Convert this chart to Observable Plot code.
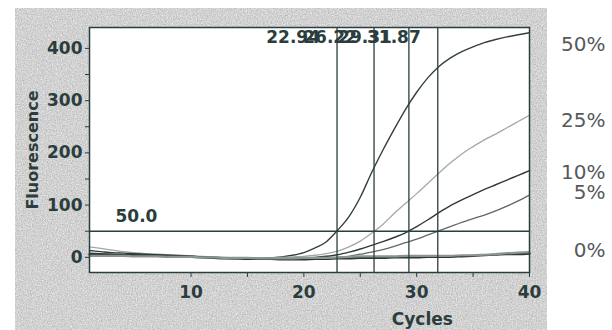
<!DOCTYPE html>
<html>
<head>
<meta charset="utf-8">
<script src="https://cdn.jsdelivr.net/npm/d3@7"></script>
<script src="https://cdn.jsdelivr.net/npm/@observablehq/plot@0.6"></script>
<style>
  html, body { margin: 0; padding: 0; background: #ffffff; }
  #wrap { position: relative; width: 612px; height: 330px; overflow: hidden; }
  #bg { position: absolute; left: 15px; top: 8px; width: 532px; height: 322px; }
  #chart { position: absolute; left: 0; top: 0; }
</style>
</head>
<body>
<div id="wrap">
  <svg id="bg" width="532" height="322">
    <filter id="grain" x="0" y="0" width="100%" height="100%" color-interpolation-filters="sRGB">
      <feTurbulence type="fractalNoise" baseFrequency="0.8" numOctaves="2" seed="4"/>
      <feColorMatrix type="matrix" values="0.3 0 0 0 0.67  0.3 0 0 0 0.67  0.3 0 0 0 0.67  0 0 0 0 1"/>
    </filter>
    <rect width="532" height="322" fill="#d0d0d0" filter="url(#grain)"/>
  </svg>
  <div id="chart"></div>
</div>
<script>
// ---- data ----
const cycles = [1,2,3,4,5,6,7,8,9,10,11,12,13,14,15,16,17,18,19,20,21,22,23,24,25,26,27,28,29,30,31,32,33,34,35,36,37,38,39,40];

const s50  = [8,7,6,5,5,4,4,3,3,2, 1,0,-1,-1,-2,-2,-1,1,4,9, 18,30,52,78,115,162,205,245,283,316, 344,366,382,394,403,411,417,422,426,430];
const s25  = [20,17,14,11,9,7,6,5,4,3, 2,1,0,-1,-1,-1,-1,0,1,2, 4,7,12,20,31,46,63,84,103,122, 142,162,181,198,212,225,236,248,260,272];
const s10  = [13,11,9,8,7,6,5,4,3,2, 1,0,-1,-2,-2,-3,-3,-3,-2,-1, 0,2,5,10,16,23,30,38,47,59, 72,86,99,110,120,130,139,148,157,166];
const s5   = [5,5,4,4,3,3,2,2,1,1, 0,-1,-2,-3,-3,-3,-4,-4,-3,-3, -2,-1,0,2,6,10,15,21,28,35, 43,51,59,67,74,81,89,98,108,119];
const ntcA = [6,5,5,4,4,3,3,2,2,1, 0,-1,-2,-2,-3,-3,-3,-4,-4,-4, -3,-3,-2,-2,-1,-1,-1,0,0,0, 1,1,1,2,3,4,5,6,6,7];
const ntcB = [3,3,3,3,2,2,2,1,1,1, 0,0,-1,-1,-1,-2,-2,-2,-2,-1, -1,-1,0,1,2,2,2,2,3,3, 3,3,3,4,4,5,6,8,9,10];

const seriesNames = ["50%", "25%", "10%", "5%", "0% a", "0% b"];
const seriesValues = [s50, s25, s10, s5, ntcA, ntcB];
const seriesColors = ["#33403f", "#a3a8a8", "#2f3b3b", "#5f6969", "#2c3636", "#8c9393"];
const seriesWidths = [1.4, 1.3, 1.4, 1.3, 2.2, 2.2];

const ctValues = [22.94, 26.22, 29.31, 31.87];
const threshold = [50.0];

const yMajorTicks = [0, 100, 200, 300, 400];
const yMinorTicks = [50, 150, 250, 350];
const xMajorTicks = [10, 20, 30, 40];
const xMinorTicks = [15, 25, 35];

const legendLabels = ["50%", "25%", "10%", "5%", "0%"];
const legendY = [408, 262, 163, 124, 12];

// ---- build ----
const ink = "#2b3d3d";
const font = "DejaVu Sans";

const lineMarks = seriesNames.map((name, i) => {
  const rows = cycles.map((c, j) => ({cycle: c, value: seriesValues[i][j]}));
  return Plot.line(rows, {x: "cycle", y: "value", stroke: seriesColors[i], strokeWidth: seriesWidths[i], curve: "monotone-x"});
});

const chart = Plot.plot({
  width: 612,
  height: 330,
  marginLeft: 89,
  marginRight: 83,
  marginTop: 27,
  marginBottom: 58,
  x: {domain: [1, 40]},
  y: {domain: [-29, 440]},
  style: {background: "transparent", color: ink, fontFamily: font, overflow: "visible"},
  marks: [
    Plot.frame({fill: "white", stroke: "none"}),
    ...lineMarks,
    Plot.ruleX(ctValues, {stroke: ink, strokeWidth: 1.3}),
    Plot.ruleY(threshold, {stroke: ink, strokeWidth: 1.3}),
    Plot.text(ctValues, {x: d => d, text: d => d.toFixed(2), frameAnchor: "top", lineAnchor: "top", textAnchor: "end", dx: -17, dy: 3, fontSize: 17, fontWeight: "bold", fill: ink}),
    Plot.text(threshold, {y: d => d, text: d => d.toFixed(1), frameAnchor: "left", textAnchor: "start", lineAnchor: "middle", dx: 26, dy: -14.5, fontSize: 17, fontWeight: "bold", fill: ink}),
    Plot.axisY({ticks: yMajorTicks, tickSize: 4, tickPadding: 3, fontSize: 17, fontWeight: "bold", label: null, fill: ink, stroke: ink}),
    Plot.axisY({ticks: yMinorTicks, tickSize: 4, tickFormat: () => "", label: null, stroke: ink}),
    Plot.axisX({ticks: xMajorTicks, tickSize: 5, tickPadding: 8, fontSize: 17, fontWeight: "bold", label: null, fill: ink, stroke: ink}),
    Plot.axisX({ticks: xMinorTicks, tickSize: 5, tickFormat: () => "", label: null, stroke: ink}),
    Plot.frame({stroke: ink, strokeWidth: 1.5}),
    Plot.text(["Cycles"], {x: [30.5], frameAnchor: "bottom", lineAnchor: "middle", dy: 47, fontSize: 17, fontWeight: "bold", fill: ink}),
    Plot.text(["Fluorescence"], {frameAnchor: "left", textAnchor: "middle", lineAnchor: "middle", rotate: -90, dx: -57, fontSize: 16, fontWeight: "bold", fill: ink}),
    Plot.text(legendLabels, {y: legendY, text: d => d, frameAnchor: "right", textAnchor: "end", lineAnchor: "middle", dx: 76, fontSize: 20, fontFamily: "DejaVu Sans", fill: "#555a5a"})
  ]
});

document.getElementById("chart").appendChild(chart);
</script>
</body>
</html>
